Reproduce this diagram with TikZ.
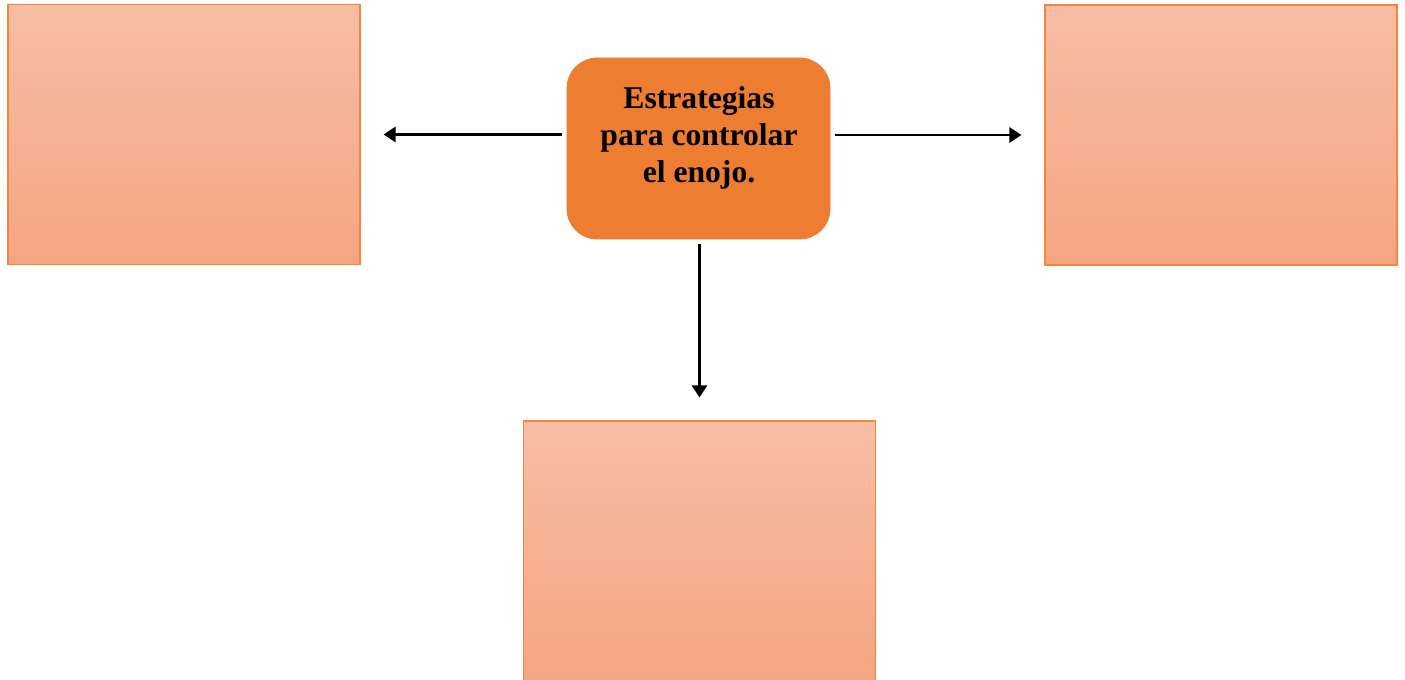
\documentclass[tikz,border=0pt]{standalone}
\usepackage{fontspec}
\setmainfont{Liberation Serif}
\usetikzlibrary{arrows.meta,positioning}
\definecolor{orange1}{HTML}{ED7D31}
\definecolor{edge1}{HTML}{F5853A}
\definecolor{peachtop}{HTML}{F7BDA4}
\definecolor{peachbot}{HTML}{F5A582}
\definecolor{ink}{HTML}{000000}
\tikzset{
  box/.style={draw=edge1,line width=0.6pt,top color=peachtop,bottom color=peachbot,
              minimum width=7.04cm,minimum height=5.2cm,inner sep=0pt},
  hubbox/.style={fill=orange1,draw=orange1,rounded corners=0.6cm,
                 minimum width=5.26cm,minimum height=3.62cm,inner sep=0pt},
  arr/.style={ink,line width=1.5pt,-{Triangle[length=2.4mm,width=3mm]},
              shorten <=0.1cm,shorten >=0.46cm}
}
\begin{document}
\begin{tikzpicture}[x=1cm,y=1cm]
  \useasboundingbox (0,0) rectangle (28.1,-13.6);
  \foreach \n/\x/\y in {left/3.68/-2.69,right/24.42/-2.7,bottom/13.99/-11.02}{
    \node[box] (\n) at (\x,\y) {};}
  \node[hubbox] (hub) at (13.97,-2.97) {};
  \node[align=center,font=\fontsize{18}{21}\selectfont\bfseries,color=ink]
       (hubtext) at (13.98,-2.76) {Estrategias\\para controlar\\el enojo.};
  \draw[arr] (hub.west |- left.east) -- (left.east);
  \draw[arr] (hub.east |- right.west) -- (right.west);
  \draw[arr] (bottom.north |- hub.south) -- (bottom.north);
\end{tikzpicture}
\end{document}
